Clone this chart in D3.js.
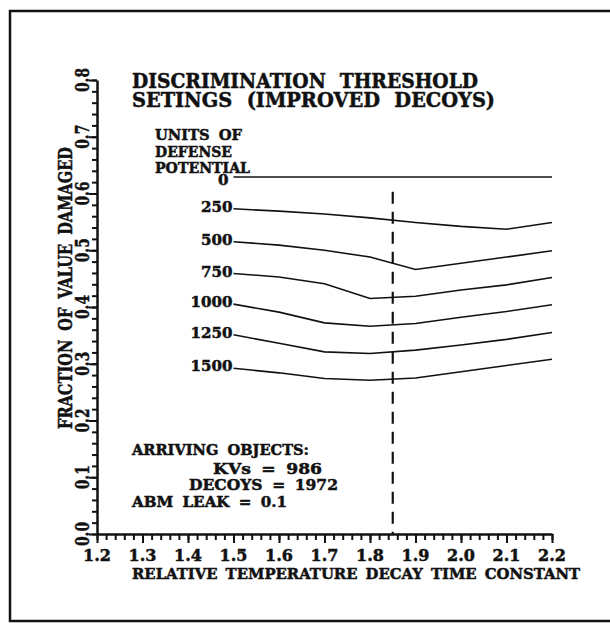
<!DOCTYPE html>
<html>
<head>
<meta charset="utf-8">
<title>Discrimination threshold settings</title>
<script src="https://cdn.jsdelivr.net/npm/d3@7"></script>
<style>
  body { margin: 0; background: #fff; }
  svg text { font-family: "DejaVu Serif", "Liberation Serif", serif; font-weight: bold; fill: #111; stroke: #111; stroke-width: 0.5px; }
  .axis path, .axis line { stroke: #111; }
</style>
</head>
<body>
<div id="chart"></div>
<script>
// data
const xValues  = [1.5, 1.6, 1.7, 1.8, 1.9, 2.0, 2.1, 2.2];
const dp0      = [0.629, 0.629, 0.629, 0.629, 0.629, 0.629, 0.629, 0.629];
const dp250    = [0.573, 0.569, 0.564, 0.557, 0.549, 0.542, 0.537, 0.549];
const dp500    = [0.515, 0.509, 0.500, 0.488, 0.466, 0.477, 0.488, 0.499];
const dp750    = [0.459, 0.453, 0.441, 0.415, 0.419, 0.430, 0.439, 0.452];
const dp1000   = [0.405, 0.391, 0.372, 0.366, 0.371, 0.382, 0.392, 0.404];
const dp1250   = [0.351, 0.336, 0.321, 0.318, 0.324, 0.333, 0.343, 0.355];
const dp1500   = [0.292, 0.284, 0.274, 0.271, 0.275, 0.286, 0.297, 0.308];
const seriesLabels = ["0", "250", "500", "750", "1000", "1250", "1500"];
const seriesValues = [dp0, dp250, dp500, dp750, dp1000, dp1250, dp1500];

const xTicks = [1.2, 1.3, 1.4, 1.5, 1.6, 1.7, 1.8, 1.9, 2.0, 2.1, 2.2];
const yTicks = [0.0, 0.1, 0.2, 0.3, 0.4, 0.5, 0.6, 0.7, 0.8];
const thresholdX = 1.85, thresholdTop = 0.603;

const titleLines = ["DISCRIMINATION THRESHOLD", "SETINGS (IMPROVED DECOYS)"];
const legendTitle = ["UNITS OF", "DEFENSE", "POTENTIAL"];
const notes = ["ARRIVING OBJECTS:", "KVs = 986", "DECOYS = 1972", "ABM LEAK = 0.1"];

const width = 610, height = 623;

const svg = d3.select("#chart").append("svg")
    .attr("width", width)
    .attr("height", height);

// outer frame (runs off the right edge in the scan)
svg.append("rect")
    .attr("x", 10).attr("y", 11)
    .attr("width", 640).attr("height", 610)
    .attr("fill", "none").attr("stroke", "#111").attr("stroke-width", 2.5);

const x = d3.scaleLinear().domain([1.2, 2.2]).range([97, 552]);
const y = d3.scaleLinear().domain([0, 0.8]).range([534, 80]);

// minor ticks every 0.02
const xMinor = d3.range(0, 51).map(i => 1.2 + i * 0.02);
const yMinor = d3.range(0, 41).map(i => i * 0.02);

svg.append("g").attr("class", "axis")
    .attr("transform", "translate(0,534)")
    .call(d3.axisBottom(x).tickValues(xMinor).tickSize(6).tickFormat(""))
    .call(g => g.selectAll("line").attr("stroke-width", 2))
    .call(g => g.select(".domain").remove());

svg.append("g").attr("class", "axis")
    .attr("transform", "translate(0,534)")
    .call(d3.axisBottom(x).tickValues(xTicks).tickSize(9).tickSizeOuter(0).tickFormat(""))
    .call(g => g.selectAll("line").attr("stroke-width", 2))
    .call(g => g.select(".domain").attr("stroke-width", 2.5));

svg.append("g").attr("class", "axis")
    .attr("transform", "translate(97,0)")
    .call(d3.axisLeft(y).tickValues(yMinor).tickSize(5).tickFormat(""))
    .call(g => g.selectAll("line").attr("stroke-width", 2))
    .call(g => g.select(".domain").remove());

svg.append("g").attr("class", "axis")
    .attr("transform", "translate(97,0)")
    .call(d3.axisLeft(y).tickValues(yTicks).tickSize(8).tickSizeOuter(0).tickFormat(""))
    .call(g => g.selectAll("line").attr("stroke-width", 2))
    .call(g => g.select(".domain").attr("stroke-width", 2.5));

// tick labels
svg.append("g").selectAll("text")
    .data(xTicks)
    .join("text")
    .attr("x", d => x(d))
    .attr("y", 561)
    .attr("text-anchor", "middle")
    .attr("font-size", 16)
    .text(d => d.toFixed(1));

svg.append("g").selectAll("text")
    .data(yTicks)
    .join("text")
    .attr("transform", d => "translate(89," + y(d) + ") rotate(-90)")
    .attr("text-anchor", "middle")
    .attr("font-size", 19)
    .attr("textLength", 24)
    .attr("lengthAdjust", "spacingAndGlyphs")
    .text(d => d.toFixed(1));

// axis titles
svg.append("text")
    .attr("x", 132).attr("y", 579)
    .attr("font-size", 15.5)
    .attr("textLength", 448)
    .attr("lengthAdjust", "spacingAndGlyphs")
    .style("word-spacing", "3px")
    .text("RELATIVE TEMPERATURE DECAY TIME CONSTANT");

svg.append("text")
    .attr("transform", "translate(72,288) rotate(-90)")
    .attr("text-anchor", "middle")
    .attr("font-size", 19)
    .attr("textLength", 282)
    .attr("lengthAdjust", "spacingAndGlyphs")
    .style("word-spacing", "5px")
    .text("FRACTION OF VALUE DAMAGED");

// title
svg.append("text")
    .attr("x", 132).attr("y", 88)
    .attr("font-size", 20)
    .attr("textLength", 346)
    .attr("lengthAdjust", "spacingAndGlyphs")
    .style("word-spacing", "8px")
    .text(titleLines[0]);
svg.append("text")
    .attr("x", 132).attr("y", 107)
    .attr("font-size", 20)
    .attr("textLength", 363)
    .attr("lengthAdjust", "spacingAndGlyphs")
    .style("word-spacing", "8px")
    .text(titleLines[1]);

// legend heading
const legendW = [87, 77, 95];
svg.append("g").selectAll("text")
    .data(legendTitle)
    .join("text")
    .attr("x", 155)
    .attr("y", (d, i) => 140 + i * 16.5)
    .attr("font-size", 15)
    .attr("textLength", (d, i) => legendW[i])
    .attr("lengthAdjust", "spacingAndGlyphs")
    .style("word-spacing", "4px")
    .text(d => d);

// threshold marker
svg.append("line")
    .attr("x1", x(thresholdX)).attr("x2", x(thresholdX))
    .attr("y1", y(thresholdTop)).attr("y2", y(0))
    .attr("stroke", "#111")
    .attr("stroke-width", 2.2)
    .attr("stroke-dasharray", "12,8");

// curves
const line = d3.line()
    .x((d, i) => x(xValues[i]))
    .y(d => y(d));

const series = svg.append("g").selectAll("g")
    .data(seriesValues)
    .join("g");

series.append("path")
    .attr("d", d => line(d))
    .attr("fill", "none")
    .attr("stroke", "#111")
    .attr("stroke-width", 1.6);

series.append("text")
    .attr("x", (d, i) => x(xValues[0]) - (i === 0 ? 5 : 1))
    .attr("y", (d, i) => y(d[0]) + (i === 0 ? 8 : 3))
    .attr("text-anchor", "end")
    .attr("font-size", 15)
    .attr("textLength", (d, i) => seriesLabels[i].length === 4 ? 42 : seriesLabels[i].length * 10.5)
    .attr("lengthAdjust", "spacingAndGlyphs")
    .text((d, i) => seriesLabels[i]);

// notes
const noteX = [132, 213, 189, 132];
const noteY = [455, 474, 490, 507];
const noteW = [177, 109, 149, 155];
svg.append("g").selectAll("text")
    .data(notes)
    .join("text")
    .attr("x", (d, i) => noteX[i])
    .attr("y", (d, i) => noteY[i])
    .attr("font-size", 15)
    .attr("textLength", (d, i) => noteW[i])
    .attr("lengthAdjust", "spacingAndGlyphs")
    .style("word-spacing", "4px")
    .text(d => d);
</script>
</body>
</html>
